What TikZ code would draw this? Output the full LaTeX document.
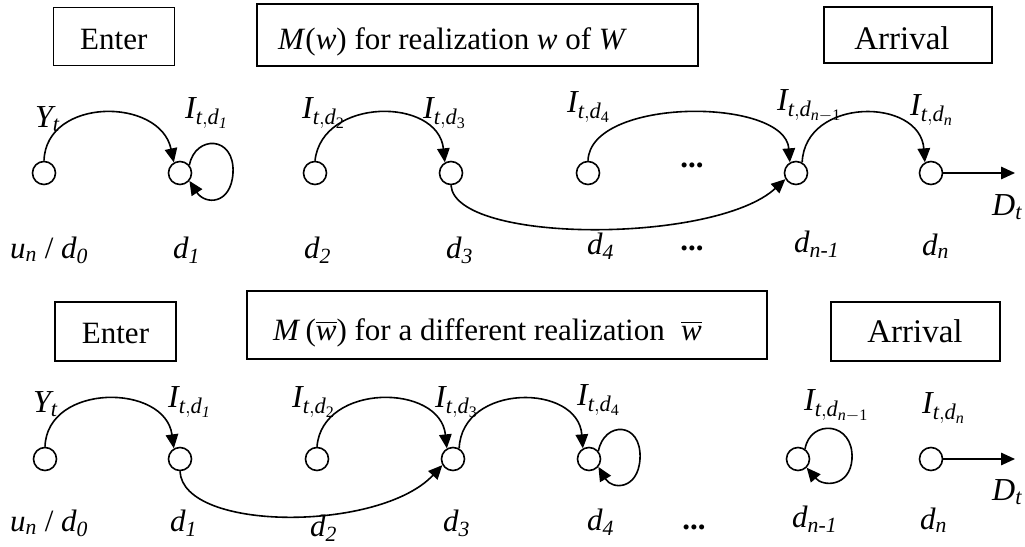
\documentclass[tikz,border=0pt]{standalone}
\usepackage{amsmath}
\usepackage{fontspec}
\setmainfont{Liberation Serif}
\usetikzlibrary{arrows.meta}
\newcommand\bxf{\fontsize{31}{36}\selectfont}
\newcommand\axf{\fontsize{33}{38}\selectfont}
\newcommand\lbf{\fontsize{32}{38}\selectfont}
\begin{document}
\begin{tikzpicture}[x=1pt,y=-1pt,
  st/.style={circle,draw,line width=1.6pt,minimum size=23pt,inner sep=0pt},
  bx/.style={draw,line width=1.5pt,inner sep=0pt},
  arr/.style={-{Triangle[length=14pt,width=12.5pt]},line width=1.6pt},
  btxt/.style={font=\bxf,anchor=base,inner sep=0pt},
  lab/.style={font=\lbf,anchor=base west,inner sep=0pt},
  dl/.style={font=\bxf,anchor=base west,inner sep=0pt},
  dots/.style={font=\bxf\bfseries,inner sep=0pt}]
\useasboundingbox (0,0) rectangle (1025,546);
% ---------- top row ----------
\node[bx,minimum width=121pt,minimum height=58pt] (enterA) at (113.8,36.3) {};
\node[btxt] (enterAt) at (113.8,49) {Enter};
\node[bx,minimum width=441pt,minimum height=62pt] (mA) at (477.5,35) {};
\node[btxt,anchor=base west] (mAt) at (278,49) {\textit{M}(\textit{w}) for realization \textit{w} of \textit{W}};
\node[bx,minimum width=168pt,minimum height=56pt] (arrA) at (908,35) {};
\node[btxt,font=\axf] (arrAt) at (902,49) {Arrival};

\node[st] (uA) at (44,173) {};
\node[st] (d1A) at (180,173) {};
\node[st] (d2A) at (315,173) {};
\node[st] (d3A) at (451,173) {};
\node[st] (d4A) at (588,173) {};
\node[st] (dn1A) at (796,173) {};
\node[st] (dnA) at (931,173) {};
\coordinate (endA) at (1015,173);

\node[lab] (yA) at (35,127) {$\textit{Y}_{\textit{t}}$};
\node[lab] (i1A) at (185,118) {$\textit{I}_{\textit{t},\textit{d}_{\textit{1}}}$};
\node[lab] (i2A) at (302,118) {$\textit{I}_{\textit{t},\textit{d}_{\text{2}}}$};
\node[lab] (i3A) at (423,118) {$\textit{I}_{\textit{t},\textit{d}_{\text{3}}}$};
\node[lab] (i4A) at (567,112) {$\textit{I}_{\textit{t},\textit{d}_{\text{4}}}$};
\node[lab] (in1A) at (777,110) {$\textit{I}_{\textit{t},\textit{d}_{\textit{n}-\text{1}}}$};
\node[lab] (inA) at (910,115) {$\textit{I}_{\textit{t},\textit{d}_{\textit{n}}}$};
\node[lab] (dtA) at (992,215) {$\textit{D}_{\textit{t}}$};
\node[dots] (dotsA) at (692,165) {...};

\node[dl] (luA) at (10,258) {$\textit{u}_{\textit{n}}$ / $\textit{d}_{\textit{0}}$};
\node[dl] (l1A) at (173,258) {$\textit{d}_{\textit{1}}$};
\node[dl] (l2A) at (304,258) {$\textit{d}_{\textit{2}}$};
\node[dl] (l3A) at (446,258) {$\textit{d}_{\textit{3}}$};
\node[dl] (l4A) at (587,254) {$\textit{d}_{\textit{4}}$};
\node[dots] (ldotsA) at (692,248) {...};
\node[dl] (ln1A) at (794,252) {$\textit{d}_{\textit{n-1}}$};
\node[dl] (lnA) at (922,255) {$\textit{d}_{\textit{n}}$};

\draw[arr] (uA.north) .. controls (46,97) and (160,97) .. (d1A.120);
\draw[arr,shift={(d1A.center)}] (d1A.40) .. controls (15,-38) and (55,-38) .. (53,0) .. controls (51,32) and (25,32) .. (d1A.-40);
\draw[arr] (d2A.north) .. controls (322,97) and (438,97) .. (d3A.120);
\draw[arr] (d3A.south) .. controls (455,244) and (715,244) .. (dn1A.-150);
\draw[arr] (d4A.north) .. controls (590,97) and (785,97) .. (dn1A.120);
\draw[arr] (dn1A.60) .. controls (805,97) and (920,97) .. (dnA.120);
\draw[arr] (dnA.east) -- (endA);

% ---------- bottom row ----------
\node[bx,minimum width=121pt,minimum height=59pt] (enterB) at (115.5,331.5) {};
\node[btxt] (enterBt) at (115.5,343) {Enter};
\node[bx,minimum width=520pt,minimum height=68pt] (mB) at (507,325) {};
\node[btxt,anchor=base west] (mBt) at (273,340) {\textit{M}\,($\overline{\textit{w}}$) for a different realization\; $\overline{\textit{w}}$};
\node[bx,minimum width=169pt,minimum height=59pt] (arrB) at (915.5,331.5) {};
\node[btxt,font=\axf] (arrBt) at (915,342) {Arrival};

\node[st] (uB) at (45,459) {};
\node[st] (d1B) at (180,459) {};
\node[st] (d2B) at (317,459) {};
\node[st] (d3B) at (453,459) {};
\node[st] (d4B) at (589,459) {};
\node[st] (dn1B) at (798,459) {};
\node[st] (dnB) at (931,459) {};
\coordinate (endB) at (1015,459);

\node[lab] (yB) at (33,412) {$\textit{Y}_{\textit{t}}$};
\node[lab] (i1B) at (168,407) {$\textit{I}_{\textit{t},\textit{d}_{\textit{1}}}$};
\node[lab] (i2B) at (292,407) {$\textit{I}_{\textit{t},\textit{d}_{\text{2}}}$};
\node[lab] (i3B) at (435,407) {$\textit{I}_{\textit{t},\textit{d}_{\text{3}}}$};
\node[lab] (i4B) at (577,405) {$\textit{I}_{\textit{t},\textit{d}_{\text{4}}}$};
\node[lab] (in1B) at (804,410) {$\textit{I}_{\textit{t},\textit{d}_{\textit{n}-\text{1}}}$};
\node[lab] (inB) at (922,413) {$\textit{I}_{\textit{t},\textit{d}_{\textit{n}}}$};
\node[lab] (dtB) at (992,500) {$\textit{D}_{\textit{t}}$};

\node[dl] (luB) at (10,531) {$\textit{u}_{\textit{n}}$ / $\textit{d}_{\textit{0}}$};
\node[dl] (l1B) at (170,531) {$\textit{d}_{\textit{1}}$};
\node[dl] (l2B) at (310,536) {$\textit{d}_{\textit{2}}$};
\node[dl] (l3B) at (443,531) {$\textit{d}_{\textit{3}}$};
\node[dl] (l4B) at (587,530) {$\textit{d}_{\textit{4}}$};
\node[dots] (ldotsB) at (694,527) {...};
\node[dl] (ln1B) at (792,527) {$\textit{d}_{\textit{n-1}}$};
\node[dl] (lnB) at (920,529) {$\textit{d}_{\textit{n}}$};

\draw[arr] (uB.north) .. controls (47,383) and (165,383) .. (d1B.120);
\draw[arr] (d1B.south) .. controls (183,532) and (380,532) .. (d3B.-150);
\draw[arr] (d2B.north) .. controls (322,383) and (440,383) .. (d3B.120);
\draw[arr] (d3B.60) .. controls (462,383) and (578,383) .. (d4B.120);
\draw[arr,shift={(d4B.center)}] (d4B.40) .. controls (15,-38) and (53,-38) .. (51,0) .. controls (49,31) and (23,31) .. (d4B.-40);
\draw[arr,shift={(dn1B.center)}] (dn1B.55) .. controls (12,-40) and (56,-38) .. (54,0) .. controls (52,28) and (25,28) .. (dn1B.-45);
\draw[arr] (dnB.east) -- (endB);
\end{tikzpicture}
\end{document}
